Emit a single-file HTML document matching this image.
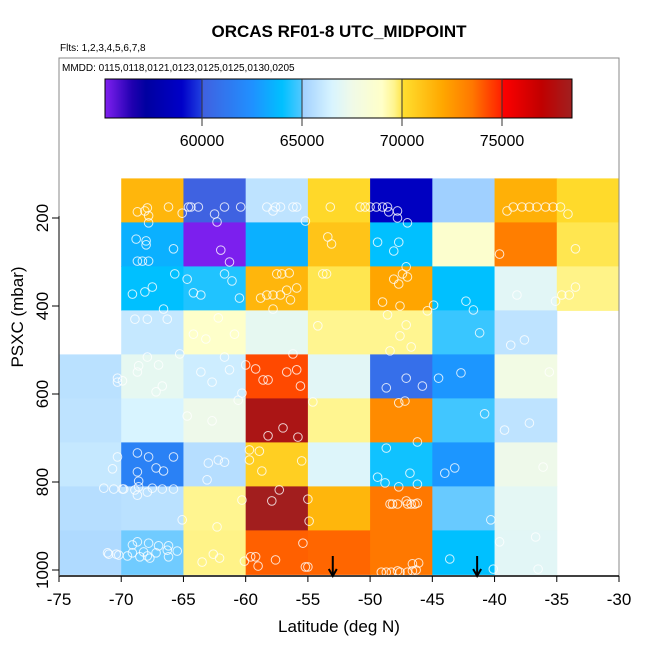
<!DOCTYPE html>
<html><head><meta charset="utf-8"><style>
html,body{margin:0;padding:0;background:#fff;}
svg{display:block;font-family:"Liberation Sans",sans-serif;}
</style></head><body>
<svg id="chart" width="650" height="650" viewBox="0 0 650 650">
<text x="339" y="37" text-anchor="middle" font-size="17" font-weight="bold">ORCAS RF01-8 UTC_MIDPOINT</text>
<text x="60" y="51" font-size="10">Flts: 1,2,3,4,5,6,7,8</text>
<text x="62" y="71" font-size="10">MMDD: 0115,0118,0121,0123,0125,0125,0130,0205</text>
<g id="cells"></g>
<g id="pts"></g>
<g id="cbar"></g>
<g id="axes"></g>
<text x="339" y="632" text-anchor="middle" font-size="17">Latitude (deg N)</text>
<text transform="translate(23,317) rotate(-90)" text-anchor="middle" font-size="17">PSXC (mbar)</text>
</svg>
<script>
const latEdges=[-75,-70,-65,-60,-55,-50,-45,-40,-35,-30];
const presEdges=[110,210,310,410,510,610,710,810,910,1010];
const cellValues=[
[null,71500,60100,65800,70300,58700,65000,71700,70200],
[null,63500,55200,63500,71000,64000,68700,73300,69990],
[null,64000,64400,71500,69990,72100,64000,66900,69650],
[null,66000,68900,67100,69600,69600,64700,65800,null],
[65700,67100,66200,74300,66900,60800,62700,67700,null],
[65800,66500,67400,78000,69600,72900,64800,65800,null],
[66000,61700,65600,70600,66700,64200,62700,67400,null],
[65600,65700,69600,78400,71500,73500,64993,67000,null],
[65400,64994,69650,73900,73800,73500,64000,66900,null]];
const xTicks=[-75,-70,-65,-60,-55,-50,-45,-40,-35,-30];
const yTicks=[200,400,600,800,1000];
const cbTicks=[60000,65000,70000,75000];
const cbRange=[55150,78500];
const arrowLats=[-53.0,-41.4];
const ptLat=[-68.7,-68.1,-67.9,-67.8,-67.8,-66.2,-65.1,-64.6,-64.4,-63.8,-62.5,-62.3,-61.7,-60.4,-58.3,-57.8,-57.6,-57.2,-56.2,-55.9,-55.2,-53.2,
-50.8,-50.4,-50.0,-49.5,-49.0,-48.6,-48.5,-47.8,-47.8,-47.0,-39.0,-38.5,-37.8,-37.2,-36.6,-35.9,-35.3,-34.7,-34.1,
-68.8,-68.0,-68.0,-65.8,-68.7,-68.3,-67.8,-62.0,-61.3,-53.4,-53.1,-49.4,-47.7,-48.1,-39.6,-33.5,
-65.7,-69.1,-68.1,-67.5,-64.7,-64.2,-63.6,-61.7,-61.1,-60.5,-57.5,-57.1,-56.5,-55.9,-56.7,-56.4,-58.8,-58.3,-57.8,-57.2,-57.8,-53.8,-53.5,-66.6,-47.1,-47.4,-47.0,-48.1,-47.7,-49.0,-47.6,-45.4,-44.9,-42.3,-41.7,-38.2,-35.1,-34.6,-34.0,-33.5,
-68.9,-67.9,-66.3,-62.2,-64.2,-63.2,-60.9,-54.2,-65.3,-48.6,-47.1,-47.6,-46.7,-48.4,-41.2,-38.7,-37.6,
-67.9,-68.6,-68.7,-67.0,-70.3,-70.3,-69.9,-66.7,-67.2,-63.6,-62.7,-61.3,-61.7,-60.0,-59.2,-60.3,-60.6,-58.6,-58.2,-56.7,-55.9,-56.2,-55.6,-54.6,-47.1,-48.7,-45.8,-44.5,-42.7,-35.6,
-64.7,-62.7,-57.0,-58.2,-55.8,-47.7,-47.2,-40.8,-39.2,-37.2,
-70.3,-70.7,-68.7,-67.8,-65.8,-67.2,-66.6,-68.7,-68.6,-68.6,-68.7,-63.0,-62.2,-61.7,-63.1,-59.7,-58.9,-59.7,-58.7,-55.5,-46.2,-48.7,-49.4,-48.8,-46.8,-47.7,-46.2,-44.0,-43.2,-36.1,
-71.4,-70.6,-69.9,-69.8,-68.9,-67.9,-67.5,-66.7,-65.8,
-60.3,-57.3,-57.9,-55.0,-54.9,-65.1,-62.3,-48.4,-48.2,-47.8,-47.1,-47.0,-46.7,-46.4,-46.2,-40.3,
-69.1,-68.7,-67.8,-67.0,-66.2,-65.5,-71.1,-71.0,-70.4,-70.2,-69.5,-69.1,-68.5,-68.2,-67.9,-67.7,-67.2,-66.3,-66.2,-63.5,-62.6,-62.1,-60.1,-59.6,-59.2,-59.0,-57.6,-55.4,-55.2,-55.0,-43.6,-40.1,-39.6,-36.7,-36.5,-49.1,-48.7,-48.3,-47.8,-47.6,-47.0,-46.6,-46.3,-46.6,-46.1];
const ptPres=[186,184,177,195,211,175,189,175,175,175,191,209,175,175,175,184,175,175,175,175,207,175,
175,175,175,175,175,175,186,184,200,211,184,175,175,175,175,175,175,175,191,
248,252,261,270,298,298,298,273,300,243,259,255,255,275,282,270,
327,373,368,357,339,370,375,327,343,382,327,327,325,359,364,386,382,375,375,375,407,327,327,407,311,327,334,339,350,391,400,411,398,389,409,375,389,375,375,357,
430,430,430,427,464,475,464,445,509,420,443,468,493,502,461,489,477,
516,536,550,534,564,573,570,582,595,550,573,545,516,534,543,598,614,568,568,550,545,509,582,618,564,586,582,564,552,550,
650,661,677,695,698,620,616,645,682,666,
743,770,734,743,743,768,775,777,798,811,830,757,750,755,795,727,730,750,775,752,709,723,789,802,780,811,805,780,768,766,
814,816,816,816,818,823,814,816,816,
841,818,843,839,889,886,902,850,850,850,843,850,850,850,848,886,
943,936,939,945,945,957,961,964,964,966,968,961,970,959,968,973,961,955,970,982,964,973,980,970,970,991,977,939,993,993,975,998,936,925,998,1005,1005,1005,1002,1005,1005,1002,1000,986,984];

const NS='http://www.w3.org/2000/svg';
const X0=59,X1=619;
const xs=v=>X0+(v+75)*(X1-X0)/45;
const ys=p=>218+(p-200)*0.44;
const stops=[[55150,'#8020f0'],[56500,'#2000b0'],[57200,'#0000a0'],[59000,'#0000c8'],[59990,'#2040e0'],[60000,'#4060e0'],[62500,'#2090ff'],[64000,'#00c0ff'],[64990,'#50c8ff'],[65000,'#a0d0ff'],[66500,'#d8f4ff'],[67500,'#f0fae8'],[69000,'#ffffc8'],[69600,'#fff590'],[69990,'#ffe650'],[70000,'#ffe030'],[72000,'#ffa800'],[73500,'#ff7800'],[74990,'#ff2000'],[75000,'#ff0000'],[77000,'#c00000'],[78500,'#a02020']];
function hx(h){return [1,3,5].map(i=>parseInt(h.substr(i,2),16));}
function cmap(v){
  if(v<=stops[0][0])return stops[0][1];
  for(let i=1;i<stops.length;i++){if(v<=stops[i][0]){const a=hx(stops[i-1][1]),b=hx(stops[i][1]);const t=(v-stops[i-1][0])/(stops[i][0]-stops[i-1][0]);return 'rgb('+a.map((c,k)=>Math.round(c+(b[k]-c)*t)).join(',')+')';}}
  return stops[stops.length-1][1];
}
function mk(tag,attrs,parent){const e=document.createElementNS(NS,tag);for(const k in attrs)e.setAttribute(k,attrs[k]);parent.appendChild(e);return e;}
const cells=document.getElementById('cells');
cellValues.forEach((row,r)=>row.forEach((v,c)=>{
  if(v===null)return;
  const x=xs(latEdges[c]),w=xs(latEdges[c+1])-x,y=ys(presEdges[r]),h=ys(presEdges[r+1])-y;
  const e=mk('rect',{x:x,y:y,width:w+0.5,height:h+0.5,fill:cmap(v)},cells);
  
  
}));
const pts=document.getElementById('pts');
ptLat.forEach((la,i)=>{
  const e=mk('circle',{cx:xs(la),cy:ys(ptPres[i]),r:4.3,fill:'none',stroke:'#fff','stroke-width':1,'stroke-opacity':0.8},pts);
  
  
});
const ax=document.getElementById('axes');
arrowLats.forEach(la=>{
  const x=xs(la);
  const g=mk('g',{},ax);
  
  
  mk('line',{x1:x,y1:556,x2:x,y2:575,stroke:'#000','stroke-width':2},g);
  mk('path',{d:`M${x-4},${569} L${x},${576} L${x+4},${569}`,fill:'none',stroke:'#000','stroke-width':2},g);
});
mk('rect',{x:X0,y:58,width:X1-X0,height:518,fill:'none',stroke:'#888','stroke-width':1},ax);
mk('line',{x1:X0,y1:576,x2:X1,y2:576,stroke:'#000','stroke-width':1.5},ax);
mk('line',{x1:X0,y1:ys(200)-2,x2:X0,y2:576,stroke:'#555','stroke-width':1.5},ax);
xTicks.forEach(t=>{
  const x=xs(t);
  mk('line',{x1:x,y1:576,x2:x,y2:582,stroke:'#000'},ax);
  const e=mk('text',{x:x,y:605,'text-anchor':'middle','font-size':17},ax);
  e.textContent=t;
  
  
});
yTicks.forEach(t=>{
  const y=ys(t);
  mk('line',{x1:X0,y1:y,x2:X0-7,y2:y,stroke:'#000'},ax);
  const e=mk('text',{transform:`translate(48,${y}) rotate(-90)`,'text-anchor':'middle','font-size':17},ax);
  e.textContent=t;
  
  
});
const cb=document.getElementById('cbar');
const CB0=105,CB1=572,cbx=v=>CB0+(v-cbRange[0])*(CB1-CB0)/(cbRange[1]-cbRange[0]);
for(let x=CB0;x<CB1;x++){
  const v=cbRange[0]+(x+0.5-CB0)*(cbRange[1]-cbRange[0])/(CB1-CB0);
  mk('rect',{x:x,y:79,width:1.2,height:39,fill:cmap(v)},cb);
}
mk('rect',{x:CB0,y:79,width:CB1-CB0,height:39,fill:'none',stroke:'#000','stroke-width':1},cb);
cbTicks.forEach(t=>{
  const x=cbx(t);
  mk('line',{x1:x,y1:79,x2:x,y2:126,stroke:'#333','stroke-width':1},cb);
  const e=mk('text',{x:x,y:146,'text-anchor':'middle','font-size':16},cb);
  e.textContent=t;
  
  
});
</script>
</body></html>
